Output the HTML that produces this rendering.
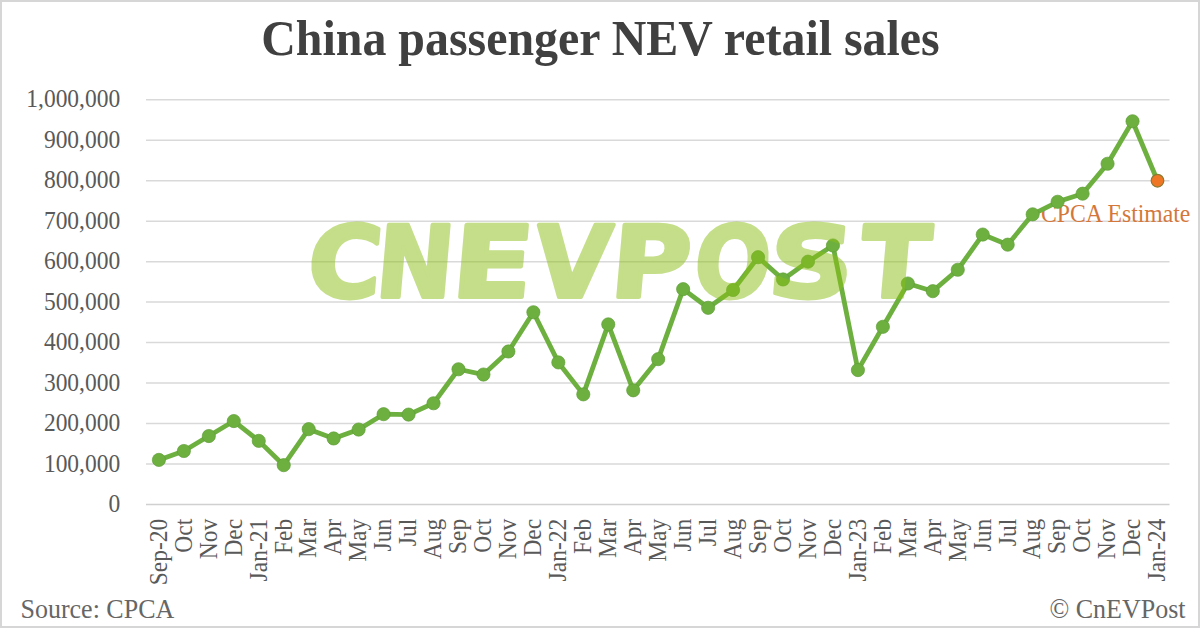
<!DOCTYPE html>
<html><head><meta charset="utf-8"><title>China passenger NEV retail sales</title>
<style>
html,body{margin:0;padding:0;}
body{width:1200px;height:628px;overflow:hidden;background:#fff;}
#frame{position:absolute;left:0;top:0;width:1200px;height:628px;box-sizing:border-box;border:2px solid #d6d6d6;background:#fff;}
svg{position:absolute;left:0;top:0;}
.t{font-family:"Liberation Serif","Times New Roman",serif;}
</style></head>
<body>
<div id="frame"></div>
<svg width="1200" height="628" viewBox="0 0 1200 628">
<text class="t" transform="translate(600.5,55.1) scale(1,1.04)" text-anchor="middle" font-weight="bold" font-size="47.9" fill="#404040">China passenger NEV retail sales</text>

<g stroke="#d9d9d9" stroke-width="1.5">
<line x1="146.0" y1="504.40" x2="1169.5" y2="504.40" stroke="#d0d0d0"/>
<line x1="146.0" y1="463.94" x2="1169.5" y2="463.94"/>
<line x1="146.0" y1="423.49" x2="1169.5" y2="423.49"/>
<line x1="146.0" y1="383.03" x2="1169.5" y2="383.03"/>
<line x1="146.0" y1="342.57" x2="1169.5" y2="342.57"/>
<line x1="146.0" y1="302.12" x2="1169.5" y2="302.12"/>
<line x1="146.0" y1="261.66" x2="1169.5" y2="261.66"/>
<line x1="146.0" y1="221.20" x2="1169.5" y2="221.20"/>
<line x1="146.0" y1="180.74" x2="1169.5" y2="180.74"/>
<line x1="146.0" y1="140.29" x2="1169.5" y2="140.29"/>
<line x1="146.0" y1="99.83" x2="1169.5" y2="99.83"/>
</g>
<g class="t" font-size="23.5" fill="#595959" text-anchor="end">
<text transform="translate(120.2,512.00) scale(1,1.08)">0</text>
<text transform="translate(120.2,471.54) scale(1,1.08)">100,000</text>
<text transform="translate(120.2,431.09) scale(1,1.08)">200,000</text>
<text transform="translate(120.2,390.63) scale(1,1.08)">300,000</text>
<text transform="translate(120.2,350.17) scale(1,1.08)">400,000</text>
<text transform="translate(120.2,309.72) scale(1,1.08)">500,000</text>
<text transform="translate(120.2,269.26) scale(1,1.08)">600,000</text>
<text transform="translate(120.2,228.80) scale(1,1.08)">700,000</text>
<text transform="translate(120.2,188.34) scale(1,1.08)">800,000</text>
<text transform="translate(120.2,147.89) scale(1,1.08)">900,000</text>
<text transform="translate(120.2,107.43) scale(1,1.08)">1,000,000</text>
</g>
<g class="t" font-size="23.5" fill="#595959" text-anchor="end">
<text transform="translate(166.70,518.8) rotate(-90) scale(1,1.08)">Sep-20</text>
<text transform="translate(191.67,518.8) rotate(-90) scale(1,1.08)">Oct</text>
<text transform="translate(216.63,518.8) rotate(-90) scale(1,1.08)">Nov</text>
<text transform="translate(241.60,518.8) rotate(-90) scale(1,1.08)">Dec</text>
<text transform="translate(266.56,518.8) rotate(-90) scale(1,1.08)">Jan-21</text>
<text transform="translate(291.53,518.8) rotate(-90) scale(1,1.08)">Feb</text>
<text transform="translate(316.49,518.8) rotate(-90) scale(1,1.08)">Mar</text>
<text transform="translate(341.45,518.8) rotate(-90) scale(1,1.08)">Apr</text>
<text transform="translate(366.42,518.8) rotate(-90) scale(1,1.08)">May</text>
<text transform="translate(391.39,518.8) rotate(-90) scale(1,1.08)">Jun</text>
<text transform="translate(416.35,518.8) rotate(-90) scale(1,1.08)">Jul</text>
<text transform="translate(441.31,518.8) rotate(-90) scale(1,1.08)">Aug</text>
<text transform="translate(466.28,518.8) rotate(-90) scale(1,1.08)">Sep</text>
<text transform="translate(491.25,518.8) rotate(-90) scale(1,1.08)">Oct</text>
<text transform="translate(516.21,518.8) rotate(-90) scale(1,1.08)">Nov</text>
<text transform="translate(541.17,518.8) rotate(-90) scale(1,1.08)">Dec</text>
<text transform="translate(566.14,518.8) rotate(-90) scale(1,1.08)">Jan-22</text>
<text transform="translate(591.10,518.8) rotate(-90) scale(1,1.08)">Feb</text>
<text transform="translate(616.07,518.8) rotate(-90) scale(1,1.08)">Mar</text>
<text transform="translate(641.03,518.8) rotate(-90) scale(1,1.08)">Apr</text>
<text transform="translate(666.00,518.8) rotate(-90) scale(1,1.08)">May</text>
<text transform="translate(690.96,518.8) rotate(-90) scale(1,1.08)">Jun</text>
<text transform="translate(715.93,518.8) rotate(-90) scale(1,1.08)">Jul</text>
<text transform="translate(740.89,518.8) rotate(-90) scale(1,1.08)">Aug</text>
<text transform="translate(765.86,518.8) rotate(-90) scale(1,1.08)">Sep</text>
<text transform="translate(790.82,518.8) rotate(-90) scale(1,1.08)">Oct</text>
<text transform="translate(815.79,518.8) rotate(-90) scale(1,1.08)">Nov</text>
<text transform="translate(840.75,518.8) rotate(-90) scale(1,1.08)">Dec</text>
<text transform="translate(865.72,518.8) rotate(-90) scale(1,1.08)">Jan-23</text>
<text transform="translate(890.68,518.8) rotate(-90) scale(1,1.08)">Feb</text>
<text transform="translate(915.65,518.8) rotate(-90) scale(1,1.08)">Mar</text>
<text transform="translate(940.61,518.8) rotate(-90) scale(1,1.08)">Apr</text>
<text transform="translate(965.58,518.8) rotate(-90) scale(1,1.08)">May</text>
<text transform="translate(990.54,518.8) rotate(-90) scale(1,1.08)">Jun</text>
<text transform="translate(1015.51,518.8) rotate(-90) scale(1,1.08)">Jul</text>
<text transform="translate(1040.47,518.8) rotate(-90) scale(1,1.08)">Aug</text>
<text transform="translate(1065.44,518.8) rotate(-90) scale(1,1.08)">Sep</text>
<text transform="translate(1090.40,518.8) rotate(-90) scale(1,1.08)">Oct</text>
<text transform="translate(1115.37,518.8) rotate(-90) scale(1,1.08)">Nov</text>
<text transform="translate(1140.34,518.8) rotate(-90) scale(1,1.08)">Dec</text>
<text transform="translate(1165.30,518.8) rotate(-90) scale(1,1.08)">Jan-24</text>
</g>
<text class="t" transform="translate(1041,221.5) scale(1,1.05)" font-size="23.7" fill="#d4773a">CPCA Estimate</text>
<polyline points="158.90,459.90 183.87,451.00 208.83,436.03 233.80,421.06 258.76,440.88 283.73,465.16 308.69,429.15 333.65,438.46 358.62,429.55 383.59,414.18 408.55,414.59 433.51,403.26 458.48,369.27 483.45,374.53 508.41,351.47 533.38,312.23 558.34,362.40 583.30,394.36 608.27,324.37 633.24,390.31 658.20,359.16 683.16,289.17 708.13,307.78 733.10,289.98 758.06,257.21 783.02,279.46 807.99,261.66 832.95,245.48 857.92,370.08 882.88,326.79 907.85,283.50 932.81,291.19 957.78,269.75 982.75,234.55 1007.71,244.67 1032.67,214.32 1057.64,201.78 1082.61,193.69 1107.57,163.75 1132.54,121.27 1157.50,180.74" fill="none" stroke="#6eb040" stroke-width="4.8" stroke-linejoin="round"/>
<g fill="#6eb040" stroke="#5f9d38" stroke-width="0.7">
<circle cx="158.90" cy="459.90" r="6.6"/>
<circle cx="183.87" cy="451.00" r="6.6"/>
<circle cx="208.83" cy="436.03" r="6.6"/>
<circle cx="233.80" cy="421.06" r="6.6"/>
<circle cx="258.76" cy="440.88" r="6.6"/>
<circle cx="283.73" cy="465.16" r="6.6"/>
<circle cx="308.69" cy="429.15" r="6.6"/>
<circle cx="333.65" cy="438.46" r="6.6"/>
<circle cx="358.62" cy="429.55" r="6.6"/>
<circle cx="383.59" cy="414.18" r="6.6"/>
<circle cx="408.55" cy="414.59" r="6.6"/>
<circle cx="433.51" cy="403.26" r="6.6"/>
<circle cx="458.48" cy="369.27" r="6.6"/>
<circle cx="483.45" cy="374.53" r="6.6"/>
<circle cx="508.41" cy="351.47" r="6.6"/>
<circle cx="533.38" cy="312.23" r="6.6"/>
<circle cx="558.34" cy="362.40" r="6.6"/>
<circle cx="583.30" cy="394.36" r="6.6"/>
<circle cx="608.27" cy="324.37" r="6.6"/>
<circle cx="633.24" cy="390.31" r="6.6"/>
<circle cx="658.20" cy="359.16" r="6.6"/>
<circle cx="683.16" cy="289.17" r="6.6"/>
<circle cx="708.13" cy="307.78" r="6.6"/>
<circle cx="733.10" cy="289.98" r="6.6"/>
<circle cx="758.06" cy="257.21" r="6.6"/>
<circle cx="783.02" cy="279.46" r="6.6"/>
<circle cx="807.99" cy="261.66" r="6.6"/>
<circle cx="832.95" cy="245.48" r="6.6"/>
<circle cx="857.92" cy="370.08" r="6.6"/>
<circle cx="882.88" cy="326.79" r="6.6"/>
<circle cx="907.85" cy="283.50" r="6.6"/>
<circle cx="932.81" cy="291.19" r="6.6"/>
<circle cx="957.78" cy="269.75" r="6.6"/>
<circle cx="982.75" cy="234.55" r="6.6"/>
<circle cx="1007.71" cy="244.67" r="6.6"/>
<circle cx="1032.67" cy="214.32" r="6.6"/>
<circle cx="1057.64" cy="201.78" r="6.6"/>
<circle cx="1082.61" cy="193.69" r="6.6"/>
<circle cx="1107.57" cy="163.75" r="6.6"/>
<circle cx="1132.54" cy="121.27" r="6.6"/>
</g>
<circle cx="1157.50" cy="180.74" r="6.3" fill="#ef7624" stroke="#8c7a30" stroke-width="1.2"/>
<g opacity="0.5" transform="translate(0,297.2) skewX(-5) translate(0,-297.2)"><text y="297.2" font-family="DejaVu Sans, sans-serif" font-weight="bold" font-size="99.0" fill="#8bbf15" stroke="#8bbf15" stroke-width="4.0" stroke-linejoin="round"><tspan x="305.5" textLength="73.4" lengthAdjust="spacingAndGlyphs">C</tspan><tspan x="374.1" textLength="76.9" lengthAdjust="spacingAndGlyphs">N</tspan><tspan x="449.7" textLength="80.4" lengthAdjust="spacingAndGlyphs">E</tspan><tspan x="532.0" textLength="76.0" lengthAdjust="spacingAndGlyphs">V</tspan><tspan x="608.6" textLength="79.4" lengthAdjust="spacingAndGlyphs">P</tspan><tspan x="692.1" textLength="75.9" lengthAdjust="spacingAndGlyphs">O</tspan><tspan x="766.0" textLength="85.1" lengthAdjust="spacingAndGlyphs">S</tspan><tspan x="858.0" textLength="69.0" lengthAdjust="spacingAndGlyphs">T</tspan></text></g>

<text class="t" transform="translate(20.5,617.6) scale(1,1.05)" font-size="26" fill="#666">Source: CPCA</text>
<text class="t" transform="translate(1185.5,617.6) scale(1,1.05)" text-anchor="end" font-size="26" fill="#666">© CnEVPost</text>
</svg>
</body></html>
